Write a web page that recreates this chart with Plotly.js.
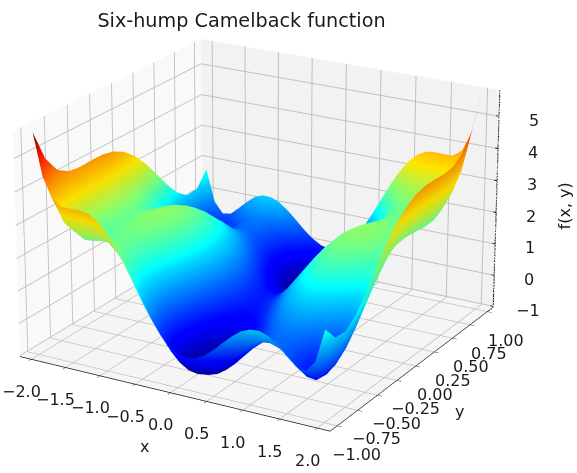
<!DOCTYPE html>
<html><head><meta charset="utf-8">
<script src="https://cdn.plot.ly/plotly-3.0.1.min.js"></script>
<style>html,body{margin:0;padding:0;background:#fff;overflow:hidden;width:577px;height:473px}
#w{position:absolute;left:0;top:0;width:577px;height:473px;overflow:hidden}
#p{position:absolute}</style></head>
<body><div id="w"><div id="p"></div></div>
<script>
const chartTitle = "Six-hump Camelback function";
const xValues = [-2,-1.875,-1.75,-1.625,-1.5,-1.375,-1.25,-1.125,-1,-0.875,-0.75,-0.625,-0.5,-0.375,-0.25,-0.125,0,0.125,0.25,0.375,0.5,0.625,0.75,0.875,1,1.125,1.25,1.375,1.5,1.625,1.75,1.875,2];
const yValues = [-1,-0.875,-0.75,-0.625,-0.5,-0.375,-0.25,-0.125,0,0.125,0.25,0.375,0.5,0.625,0.75,0.875,1];
const xTicks = [-2,-1.5,-1,-0.5,0,0.5,1,1.5,2];
const yTicks = [-1,-0.75,-0.5,-0.25,0,0.25,0.5,0.75,1];
const zTicks = [-1,0,1,2,3,4,5];
const zValues = [
[5.73,4.47,3.88,3.68,3.67,3.68,3.65,3.50,3.23,2.86,2.40,1.89,1.37,.90,.49,.19,0,-.06,-.01,.15,.37,.64,.90,1.11,1.23,1.25,1.15,.93,.67,.43,.38,.72,1.73],
[4.77,3.51,2.94,2.76,2.76,2.79,2.77,2.64,2.39,2.03,1.58,1.09,.59,.13,-.26,-.55,-.72,-.77,-.69,-.52,-.28,0,.27,.50,.64,.67,.58,.39,.14,-.08,-.12,.23,1.27],
[4.25,3.01,2.46,2.29,2.31,2.36,2.35,2.24,2.00,1.65,1.22,.75,.27,-.18,-.55,-.83,-.98,-1.02,-.93,-.74,-.49,-.19,.10,.34,.50,.55,.47,.29,.06,-.15,-.17,.20,1.25],
[4.03,2.81,2.27,2.12,2.15,2.22,2.22,2.13,1.91,1.58,1.16,.70,.23,-.20,-.55,-.81,-.95,-.97,-.87,-.66,-.39,-.08,.22,.48,.66,.72,.66,.50,.28,.09,.08,.47,1.53],
[3.98,2.78,2.25,2.12,2.17,2.25,2.27,2.19,1.98,1.67,1.27,.82,.37,-.04,-.38,-.63,-.75,-.75,-.63,-.42,-.13,.20,.52,.79,.98,1.06,1.02,.87,.67,.49,.50,.90,1.98],
[4.00,2.81,2.30,2.18,2.25,2.34,2.38,2.31,2.13,1.83,1.44,1.01,.58,.18,-.15,-.37,-.48,-.47,-.34,-.10,.20,.54,.88,1.17,1.38,1.47,1.44,1.31,1.12,.96,.99,1.41,2.50],
[4.00,2.83,2.33,2.23,2.31,2.42,2.47,2.42,2.25,1.97,1.60,1.18,.77,.38,.07,-.14,-.23,-.20,-.05,.19,.52,.87,1.22,1.53,1.75,1.86,1.85,1.73,1.56,1.42,1.46,1.89,3.00],
[3.92,2.76,2.29,2.20,2.29,2.42,2.49,2.45,2.30,2.03,1.68,1.28,.87,.51,.21,.02,-.06,-.02,.15,.41,.75,1.12,1.49,1.81,2.05,2.17,2.18,2.08,1.92,1.79,1.85,2.30,3.42],
[3.73,2.59,2.13,2.06,2.17,2.31,2.39,2.38,2.23,1.98,1.64,1.26,.87,.52,.24,.06,0,.06,.24,.52,.87,1.26,1.64,1.98,2.23,2.38,2.39,2.31,2.17,2.06,2.13,2.59,3.73],
[3.42,2.30,1.85,1.79,1.92,2.08,2.18,2.17,2.05,1.81,1.49,1.12,.75,.41,.15,-.02,-.06,.02,.21,.51,.87,1.28,1.68,2.03,2.30,2.45,2.49,2.42,2.29,2.20,2.29,2.76,3.92],
[3.00,1.89,1.46,1.42,1.56,1.73,1.85,1.86,1.75,1.53,1.22,.87,.52,.19,-.05,-.20,-.23,-.14,.07,.38,.77,1.18,1.60,1.97,2.25,2.42,2.47,2.42,2.31,2.23,2.33,2.83,4.00],
[2.50,1.41,.99,.96,1.12,1.31,1.44,1.47,1.38,1.17,.88,.54,.20,-.10,-.34,-.47,-.48,-.37,-.15,.18,.58,1.01,1.44,1.83,2.13,2.31,2.38,2.34,2.25,2.18,2.30,2.81,4.00],
[1.98,.90,.50,.49,.67,.87,1.02,1.06,.98,.79,.52,.20,-.13,-.42,-.63,-.75,-.75,-.63,-.38,-.04,.37,.82,1.27,1.67,1.98,2.19,2.27,2.25,2.17,2.12,2.25,2.78,3.98],
[1.53,.47,.08,.09,.28,.50,.66,.72,.66,.48,.22,-.08,-.39,-.66,-.87,-.97,-.95,-.81,-.55,-.20,.23,.70,1.16,1.58,1.91,2.13,2.22,2.22,2.15,2.12,2.27,2.81,4.03],
[1.25,.20,-.17,-.15,.06,.29,.47,.55,.50,.34,.10,-.19,-.49,-.74,-.93,-1.02,-.98,-.83,-.55,-.18,.27,.75,1.22,1.65,2.00,2.24,2.35,2.36,2.31,2.29,2.46,3.01,4.25],
[1.27,.23,-.12,-.08,.14,.39,.58,.67,.64,.50,.27,0,-.28,-.52,-.69,-.77,-.72,-.55,-.26,.13,.59,1.09,1.58,2.03,2.39,2.64,2.77,2.79,2.76,2.76,2.94,3.51,4.77],
[1.73,.72,.38,.43,.67,.93,1.15,1.25,1.23,1.11,.90,.64,.37,.15,-.01,-.06,0,.19,.49,.90,1.37,1.89,2.40,2.86,3.23,3.50,3.65,3.68,3.67,3.68,3.88,4.47,5.73]
];
const jet = [[0,'rgb(0,0,127)'],[0.11,'rgb(0,0,255)'],[0.125,'rgb(0,0,255)'],[0.35,'rgb(0,220,255)'],[0.375,'rgb(0,255,255)'],[0.5,'rgb(124,255,121)'],[0.64,'rgb(255,230,0)'],[0.75,'rgb(255,150,0)'],[0.89,'rgb(255,18,0)'],[1,'rgb(127,0,0)']];
const font = {family:'"DejaVu Sans"', size:16, color:'#1a1a1a'};
const k = 5, W = 577*k, H = 473*k;
const offL = 261 - W/2, offT = 222 - H/2;
const pEl = document.getElementById('p');
pEl.style.left = offL+'px'; pEl.style.top = offT+'px'; pEl.style.width = W+'px'; pEl.style.height = H+'px';
const xR = [-2.17,2.17], yR = [-1.085,1.085], zR = [-1.03,5.8];
function ax(vals, bg, range){
  return {title:{text:''}, tickvals:vals, showticklabels:false,
    showbackground:true, backgroundcolor:bg, gridcolor:'#c0c0c0', gridwidth:2,
    showline:true, linecolor:'#111', linewidth:1.5, ticks:'outside', ticklen:4, tickcolor:'#111',
    zeroline:false, showspikes:false, autorange:false, range:range};
}
const xa = ax(xTicks, 'rgb(249,249,249)', xR);
const ya = ax(yTicks, 'rgb(242,242,242)', yR);
const za = ax(zTicks, 'rgb(245,245,245)', zR);
za.showline=false; za.ticks='';
const surf = {type:'surface', x:xValues, y:yValues, z:zValues, colorscale:jet, cmin:-1.03, cmax:5.73,
  showscale:false, hoverinfo:'skip', lighting:{ambient:0.95,diffuse:0.15,specular:0,roughness:1,fresnel:0},
  contours:{x:{highlight:false},y:{highlight:false},z:{highlight:false}}};
const spine = {type:'scatter3d',mode:'lines',x:[xR[1],xR[1]],y:[yR[1],yR[1]],z:zR,line:{color:'#111',width:2},hoverinfo:'skip',showlegend:false};
const tx=[],ty=[],tz=[];
zTicks.forEach(v=>{tx.push(xR[1]-0.04,xR[1]+0.08,null);ty.push(yR[1],yR[1],null);tz.push(v,v,null);});
const tickTrace = {type:'scatter3d',mode:'lines',x:tx,y:ty,z:tz,line:{color:'#111',width:2},hoverinfo:'skip',showlegend:false,connectgaps:false};
const m = v => (v<0?'\u2212':'');
const base = {showarrow:false,font:font,xanchor:'center',yanchor:'middle'};
const anns = [];
zTicks.forEach(v=>anns.push({...base,x:xR[1],y:yR[1],z:v,text:m(v)+Math.abs(v),xshift:35,yshift:-4}));
xTicks.forEach(v=>anns.push({...base,x:v,y:yR[0],z:zR[0],text:m(v)+Math.abs(v).toFixed(1),xshift:-10,yshift:-32}));
yTicks.forEach(v=>anns.push({...base,x:xR[1],y:v,z:zR[0],text:m(v)+Math.abs(v).toFixed(2),xshift:19,yshift:-28.5}));
anns.push({...base,x:0,y:yR[0],z:zR[0],text:'x',xshift:-26,yshift:-54});
anns.push({...base,x:xR[1],y:0,z:zR[0],text:'y',xshift:44,yshift:-45});
anns.push({...base,x:xR[1],y:yR[1],z:2.2,text:'f(x, y)',textangle:-90,xshift:68});
const r = 9.67;
const layout = {width:W,height:H,margin:{l:0,r:0,t:0,b:0},paper_bgcolor:'#fff',
  title:{text:chartTitle,font:{family:'"DejaVu Sans"',size:19.2,color:'#1a1a1a'},x:(241-offL)/W,xanchor:'center',y:1-(20-offT)/H,yanchor:'middle'},
  scene:{xaxis:xa,yaxis:ya,zaxis:za,aspectmode:'manual',aspectratio:{x:1.19,y:1.19,z:0.80},annotations:anns,
    camera:{eye:{x:r*0.4677,y:-r*0.8101,z:r*0.3535},center:{x:0,y:0,z:0},up:{x:0,y:0,z:1}},
    domain:{x:[0,1],y:[0,1]}}};
Plotly.newPlot('p',[surf,spine,tickTrace],layout,{displayModeBar:false});
</script></body></html>
